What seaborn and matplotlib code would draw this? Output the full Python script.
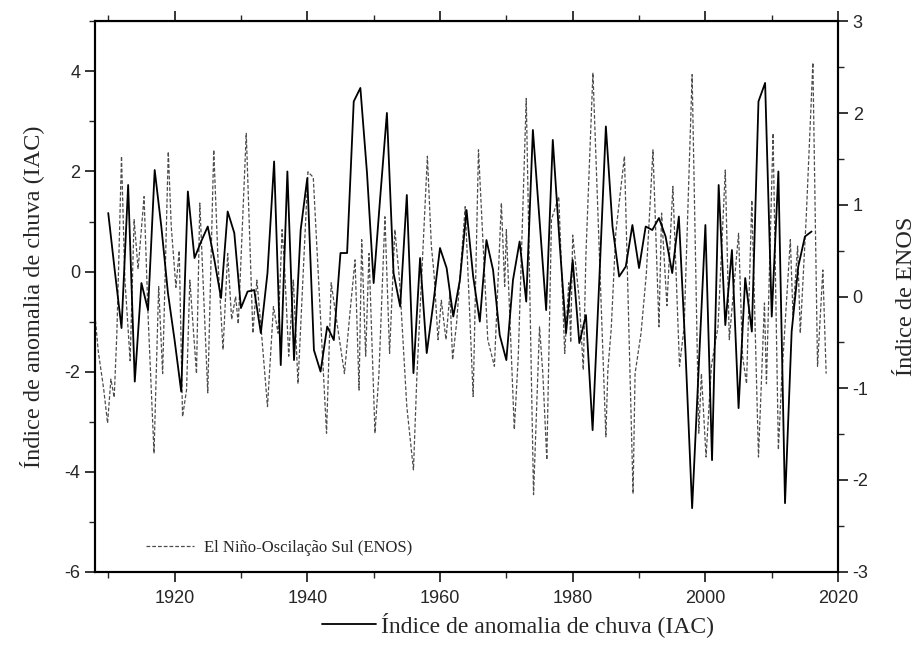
import numpy as np
import pandas as pd
import seaborn as sns
import matplotlib
matplotlib.use("Agg")
import matplotlib.pyplot as plt
from matplotlib.ticker import MultipleLocator
from matplotlib.lines import Line2D

# Índice de anomalia de chuva (IAC), anual 1910-2016
anos_iac = list(range(1910, 2017))
iac = [1.17, 0.0, -1.13, 1.73, -2.2, -0.23, -0.77, 2.03, 0.9, -0.43,
       -1.37, -2.4, 1.6, 0.27, 0.6, 0.9, 0.23, -0.53, 1.2, 0.77,
       -0.73, -0.4, -0.37, -1.23, -0.03, 2.2, -1.87, 2.0, -1.77, 0.83,
       1.87, -1.57, -2.0, -1.1, -1.37, 0.37, 0.37, 3.4, 3.67, 1.97,
       -0.23, 1.5, 3.17, -0.03, -0.7, 1.53, -2.03, 0.27, -1.63, -0.63,
       0.47, 0.07, -0.9, -0.17, 1.23, -0.1, -1.0, 0.63, 0.03, -1.27,
       -1.77, -0.17, 0.6, -0.6, 2.83, 1.03, -0.77, 2.63, 0.63, -1.23,
       0.23, -1.43, -0.87, -3.17, -0.2, 2.9, 0.9, -0.1, 0.1, 0.93,
       0.07, 0.9, 0.83, 1.07, 0.7, -0.03, 1.1, -1.6, -4.73, -1.9,
       0.93, -3.77, 1.73, -1.07, 0.43, -2.73, -0.13, -1.2, 3.4, 3.77,
       -0.9, 2.0, -4.63, -1.2, 0.1, 0.7, 0.8]

# El Niño-Oscilação Sul (ENOS)
tempo_enos = [1908.0, 1908.5, 1909.3, 1909.9, 1910.4, 1910.9, 1911.3, 1912.0, 1912.5, 1913.3,
              1913.9, 1914.5, 1915.4, 1916.0, 1916.9, 1917.6, 1918.2, 1919.05, 1919.5, 1920.2,
              1920.7, 1921.2, 1921.8, 1922.3, 1923.3, 1923.8, 1925.0, 1925.9, 1926.6, 1927.3,
              1928.0, 1928.6, 1929.2, 1929.6, 1930.8, 1931.8, 1932.4, 1933.1, 1934.0, 1934.9,
              1935.6, 1936.2, 1936.6, 1937.2, 1937.9, 1938.6, 1940.1, 1940.9, 1942.9, 1943.6,
              1944.5, 1945.6, 1946.4, 1947.2, 1947.8, 1948.2, 1948.8, 1949.3, 1950.2, 1950.8,
              1951.7, 1952.4, 1953.2, 1953.9, 1955.0, 1956.0, 1956.5, 1958.1, 1958.7, 1959.1,
              1959.7, 1960.2, 1960.9, 1961.5, 1961.9, 1962.5, 1963.8, 1965.0, 1965.8, 1967.2,
              1968.2, 1969.25, 1969.75, 1970.0, 1971.2, 1971.8, 1973.0, 1974.1, 1975.0, 1975.5,
              1976.1, 1976.8, 1977.9, 1978.8, 1979.4, 1979.7, 1980.0, 1981.0, 1981.6, 1982.0,
              1983.05, 1985.0, 1985.3, 1985.8, 1986.5, 1987.8, 1989.1, 1989.4, 1990.3, 1991.1,
              1992.1, 1993.0, 1993.4, 1994.2, 1995.1, 1996.1, 1996.8, 1998.0, 1999.0, 1999.4,
              2000.1, 2000.9, 2001.9, 2003.0, 2003.6, 2005.0, 2005.6, 2006.2, 2007.0, 2008.0,
              2008.9, 2009.2, 2010.2, 2011.0, 2011.5, 2012.8, 2013.2, 2013.9, 2014.3, 2015.2,
              2016.2, 2016.9, 2017.7, 2018.2]
enos = [-0.2, -0.6, -1.0, -1.38, -0.9, -1.1, -0.4, 1.53, 0.2, -0.7,
        0.84, 0.3, 1.09, -0.2, -1.71, 0.11, -0.84, 1.58, 0.76, 0.1,
        0.5, -1.31, -1.02, 0.18, -0.84, 1.02, -1.05, 1.6, 0.3, -0.58,
        0.47, -0.25, 0.0, -0.3, 1.78, -0.4, 0.18, -0.4, -1.2, -0.11,
        -0.4, 0.73, 0.29, -0.65, 0.18, -0.95, 1.36, 1.3, -1.49, 0.15,
        -0.3, -0.84, -0.2, 0.4, -1.02, 0.62, -0.65, 0.47, -1.49, -0.84,
        0.87, -0.62, 0.73, 0.18, -1.2, -1.89, -0.9, 1.53, 0.55, 0.25,
        -0.47, -0.04, -0.47, 0.04, -0.69, -0.29, 0.98, -1.09, 1.6, -0.47,
        -0.76, 1.02, 0.11, 0.73, -1.45, -0.65, 2.16, -2.16, -0.33, -0.84,
        -1.78, 0.84, 1.09, -0.62, 0.15, -0.5, 0.67, -0.04, -0.8, 0.47,
        2.44, -1.53, -0.8, -0.36, 0.7, 1.53, -2.15, -0.84, -0.4, 0.25,
        1.6, -0.33, 0.91, -0.1, 1.2, -0.76, -0.33, 2.42, -1.49, -0.84,
        -1.75, -0.76, -0.33, 1.38, -0.47, 0.69, -0.65, -0.95, 1.05, -1.75,
        -0.07, -0.95, 1.78, -1.67, -0.9, 0.62, -0.2, 0.55, -0.4, 0.87,
        2.55, -0.76, 0.29, -0.84]

df_iac = pd.DataFrame({"Ano": anos_iac, "IAC": iac})
df_enos = pd.DataFrame({"Ano": tempo_enos, "ENOS": enos})

sns.set_style("ticks")
plt.rcParams["font.family"] = ["Liberation Sans", "DejaVu Sans"]
plt.rcParams["axes.unicode_minus"] = False
serif = ["Liberation Serif", "DejaVu Serif"]

fig = plt.figure(figsize=(9.22, 6.59), dpi=100)
ax = fig.add_axes([0.103, 0.1325, 0.806, 0.835])
ax2 = ax.twinx()

sns.lineplot(data=df_enos, x="Ano", y="ENOS", ax=ax2, color="#4d4d4d",
             linewidth=0.9, linestyle=(0, (3, 1.6)), estimator=None)
sns.lineplot(data=df_iac, x="Ano", y="IAC", ax=ax, color="black",
             linewidth=1.3, estimator=None)
ax.set_zorder(ax2.get_zorder() + 1)
ax.patch.set_visible(False)

ax.set_xlim(1908, 2020)
ax.set_ylim(-6, 5)
ax2.set_ylim(-3, 3)

ax.xaxis.set_major_locator(MultipleLocator(20))
ax.xaxis.set_minor_locator(MultipleLocator(10))
ax.yaxis.set_major_locator(MultipleLocator(2))
ax.yaxis.set_minor_locator(MultipleLocator(1))
ax2.yaxis.set_major_locator(MultipleLocator(1))
ax2.yaxis.set_minor_locator(MultipleLocator(0.5))

ax.tick_params(axis="x", which="both", direction="out", labelsize=13)
ax.tick_params(axis="x", which="major", length=7, width=1.3, pad=6)
ax.tick_params(axis="x", which="minor", length=4, width=1.0)
ax.tick_params(axis="y", which="major", direction="out", length=7, width=1.3, labelsize=13)
ax.tick_params(axis="y", which="minor", direction="out", length=4, width=1.0)
ax2.tick_params(axis="y", which="major", direction="out", length=7, width=1.3, labelsize=13)
ax2.tick_params(axis="y", which="minor", direction="out", length=4, width=1.0)

# ticks no topo (sem rótulos)
top = ax.secondary_xaxis("top")
top.xaxis.set_major_locator(MultipleLocator(20))
top.xaxis.set_minor_locator(MultipleLocator(10))
top.tick_params(which="major", direction="out", length=7, width=1.3, labeltop=False)
top.tick_params(which="minor", direction="out", length=4, width=1.0)

for a in (ax, ax2):
    for s in a.spines.values():
        s.set_linewidth(1.5)
        s.set_color("black")
        s.set_visible(True)

ax.set_xlabel("")
ax.set_ylabel("Índice de anomalia de chuva (IAC)", fontsize=17.5, family=serif, labelpad=15)
ax2.set_ylabel("Índice de ENOS", fontsize=17.5, family=serif, rotation=90, labelpad=20)

h_enos = Line2D([], [], color="#4d4d4d", linewidth=0.9, linestyle=(0, (3, 1.6)))
h_iac = Line2D([], [], color="black", linewidth=1.3)
ax.legend([h_enos], ["El Niño-Oscilação Sul (ENOS)"], loc="lower left",
          bbox_to_anchor=(0.048, 0.002), frameon=False, handlelength=2.9,
          handletextpad=0.6, prop={"family": serif, "size": 12})
fig.legend([h_iac], ["Índice de anomalia de chuva (IAC)"], loc="center",
           bbox_to_anchor=(0.562, 0.052), frameon=False, handlelength=2.3,
           handletextpad=0.2, prop={"family": serif, "size": 17})

fig.savefig("out.png", dpi=100)
